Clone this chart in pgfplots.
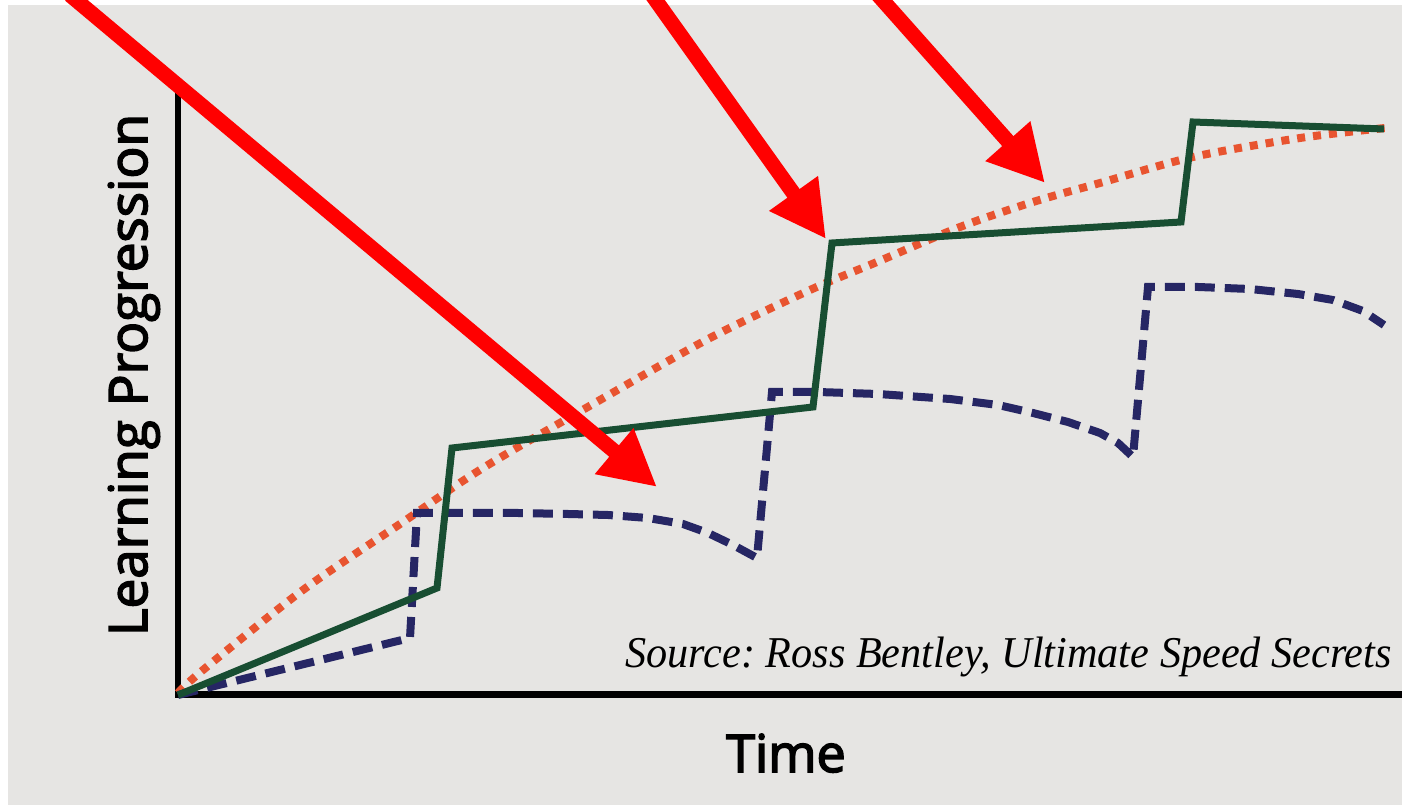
\documentclass[border=0pt]{standalone}
\usepackage{fontspec}
\usepackage{pgfplots}
\pgfplotsset{compat=1.18}
\usetikzlibrary{arrows.meta}
\newfontfamily\labfont[FakeBold=3]{Open Sans}
\newfontfamily\srcfont{Liberation Serif}
\definecolor{bgc}{RGB}{230,229,227}
\definecolor{greenl}{RGB}{24,78,50}
\definecolor{bluel}{RGB}{38,38,100}
\definecolor{orangel}{RGB}{232,84,48}
\definecolor{arrred}{RGB}{255,0,0}
\begin{document}
\frenchspacing
\begin{tikzpicture}
\begin{axis}[
  scale only axis, width=1402pt, height=805pt,
  xmin=-178, xmax=1224, ymin=-110, ymax=695,
  hide axis, clip=false,
]
% background (photo paper)
\fill[bgc] (axis cs:-170,690) rectangle (axis cs:1224,-110);
% axes
\draw[black, line width=6.5pt] (axis cs:0,605) -- (axis cs:0,-3.25);
\draw[black, line width=7pt] (axis cs:-3,0) -- (axis cs:1224,0);
% orange dotted: steady progression
\addplot[orangel, line width=8pt, dash pattern=on 8pt off 8pt, smooth] coordinates {
 (0,2) (25,25) (125,105) (225,173) (305,227) (422,295) (532,357) (632,405)
 (699,433) (782,468) (855,493) (922,512) (1015,538) (1122,557) (1207,567)};
% blue dashed
\addplot[bluel, line width=8pt, dash pattern=on 20pt off 10pt] coordinates {
 (0,0) (232,57) (239,182) (290,182) (340,182) (390,181) (430,180) (470,177)
 (505,171) (530,162) (555,150) (579,137) (594,303) (640,303) (700,301)
 (772,296) (820,290) (855,282) (890,273) (922,262) (940,252) (955,238)
 (970,408) (1020,408) (1072,406) (1120,401) (1155,395) (1185,384) (1206,370)};
% green solid
\addplot[greenl, line width=7pt, line join=miter] coordinates {
 (0,0) (259,107) (274,247) (635,288) (654,452) (1003,473) (1015,573) (1206,566)};
% labels
\node[anchor=base, font=\labfont\fontsize{52}{60}\selectfont] at (axis cs:608,-77) {Time};
\node[anchor=base, rotate=90, font=\labfont\fontsize{53}{60}\selectfont] at (axis cs:-31,320) {Learning Progression};
\node[anchor=base east, font=\srcfont\itshape\fontsize{44}{50}\selectfont, inner sep=0pt] at (axis cs:1214,27) {\scalebox{0.96}[1]{Source: Ross Bentley, Ultimate Speed Secrets}};
% red arrows
\draw[arrred, line width=15pt, -{Triangle[length=56pt,width=56pt]}] (axis cs:-108,700) -- (axis cs:479,208);
\draw[arrred, line width=15pt, -{Triangle[length=56pt,width=56pt]}] (axis cs:474,700) -- (axis cs:648,456);
\draw[arrred, line width=15pt, -{Triangle[length=56pt,width=56pt]}] (axis cs:700,700) -- (axis cs:867,512);
\end{axis}
\pgfresetboundingbox
\useasboundingbox (current axis.south west) rectangle (current axis.north east);
\end{tikzpicture}
\end{document}
